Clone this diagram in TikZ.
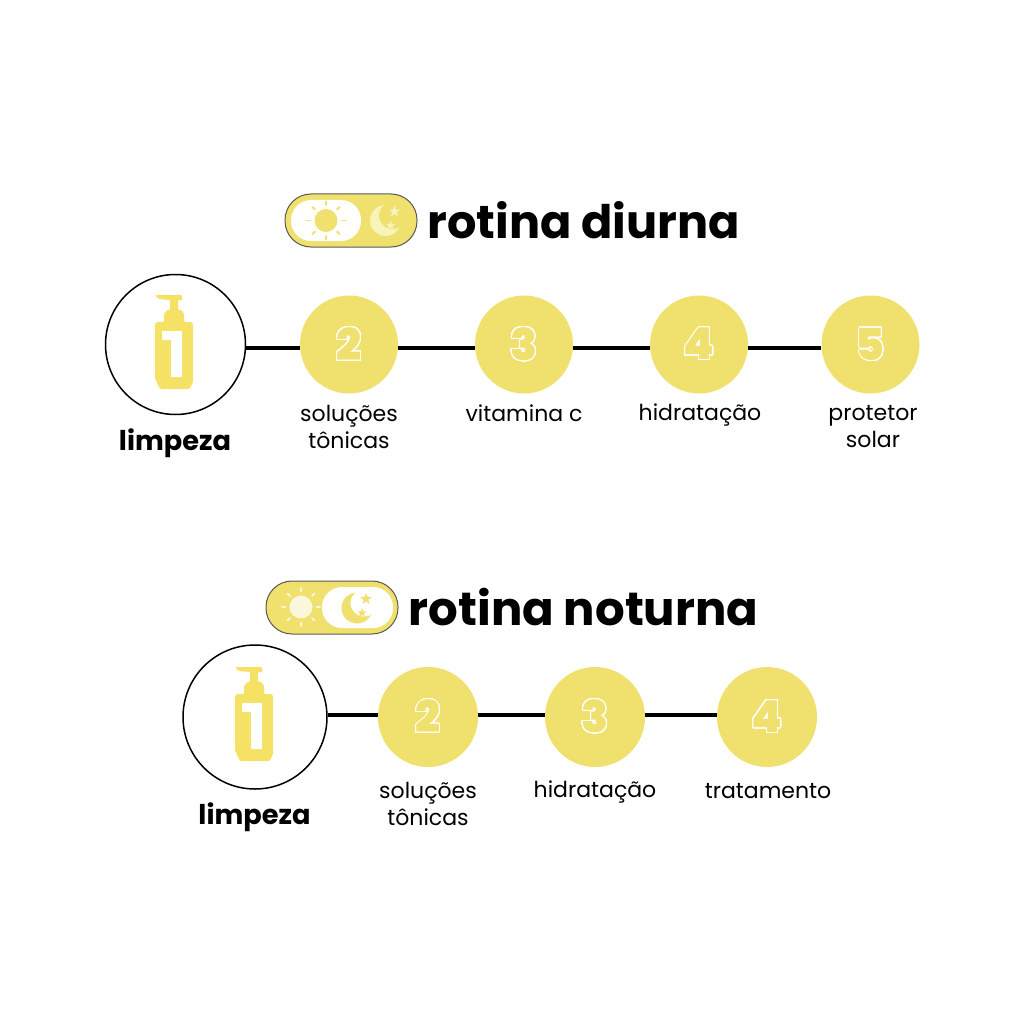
\documentclass[tikz,border=0pt]{standalone}
\usepackage{fontspec}
\setmainfont{Poppins}
\newfontfamily\digito{Poppins}[UprightFont=* Black]
\usepackage[copies]{contour}
\contourlength{1pt}
\contournumber{48}
\usetikzlibrary{shapes.geometric}
\definecolor{amarelo}{HTML}{F0E06E}
\definecolor{frasco}{HTML}{F5E163}
\definecolor{palido}{HTML}{F8F3B8}
\definecolor{claro}{HTML}{FAF7DC}
\tikzset{
  x=1pt,y=-1pt,
  titulo/.style={anchor=west,inner sep=0pt,font=\fontsize{46.2}{46.2}\selectfont\bfseries},
  etapa/.style={circle,fill=amarelo,minimum size=98pt,inner sep=0pt,text=amarelo,font=\fontsize{44}{44}\selectfont\digito},
  grande/.style={circle,draw=black,line width=1.5pt,fill=white,inner sep=0pt},
  legenda/.style={align=center,inner sep=0pt,font=\fontsize{22}{27}\selectfont},
  destaque/.style={inner sep=0pt,font=\fontsize{27.2}{27.2}\selectfont\bfseries},
  ligacao/.style={line width=4pt,black},
  chave/.style={rounded corners=26pt,draw=black!65,line width=1pt,fill=amarelo},
  botao/.style={rounded corners=20pt,fill=white},
  estrela/.style={star,star points=5,star point ratio=2.4,inner sep=0pt},
}
% frasco de limpeza
\newcommand{\frasco}[1]{%
  \begin{scope}[shift={(#1)}]
    \fill[frasco,rounded corners=1pt] (-19.5,-47) -- (7.5,-47) -- (8,-42) -- (3.5,-42) -- (3.5,-32)
      -- (7,-32) -- (9.5,-28) -- (9.5,-20) -- (17,-20) -- (18.5,-18) -- (18.5,40)
      -- (15,47) -- (-12,47) to[out=180,in=90] (-19.5,38)
      -- (-19.5,-18) -- (-18,-20) -- (-10.5,-20) -- (-10.5,-28) -- (-7,-32)
      -- (-4.5,-32) -- (-4.5,-42) -- (-16,-43) -- cycle;
    \fill[white] (-12.5,-11) -- (7.5,-11) -- (7.5,35) -- (-3.5,35) -- (-3.5,-2)
      -- (-12.5,-2) -- cycle;
  \end{scope}}
% sol da chave
\newcommand{\sol}[2]{%
  \begin{scope}[shift={(#1)}]
    \fill[#2] (0,0) circle (11.5);
    \foreach \ang in {0,45,...,315}
      \draw[#2,line width=1.8pt,line cap=round] (\ang:15.5) -- (\ang:19);
  \end{scope}}
% lua da chave, recortada com a cor de fundo
\newcommand{\lua}[3]{%
  \begin{scope}[shift={(#1)}]
    \fill[#2] (0,0) circle (15.5);
    \fill[#3] (7,-5) circle (13.5);
    \node[estrela,fill=#2,minimum size=12pt] at (9,-9) {};
    \node[estrela,fill=#2,minimum size=9.5pt] at (5,5) {};
  \end{scope}}
\begin{document}
\begin{tikzpicture}
  \useasboundingbox (0,0) rectangle (1024,1024);

  % rotina diurna
  \path[chave] (285,194) rectangle (417,247);
  \fill[botao] (291,200) rectangle (361,241);
  \sol{326,220.5}{amarelo}
  \lua{385.5,220.5}{palido}{amarelo}
  \node[titulo] (tituloD) at (427.5,220) {rotina diurna};

  \node[grande,minimum size=140pt] (d1) at (175.5,344.5) {};
  \frasco{174.5,342}
  \node[etapa] (d2) at (349,344.5) {\contour{white}{2}};
  \node[etapa] (d3) at (524,344.5) {\contour{white}{3}};
  \node[etapa] (d4) at (699,344.5) {\contour{white}{4}};
  \node[etapa] (d5) at (870.5,344.5) {\contour{white}{5}};
  \foreach \a/\b in {d1/d2,d2/d3,d3/d4,d4/d5}
    \draw[ligacao,transform canvas={yshift=-3pt}] (\a) -- (\b);

  \node[destaque] (limpezaD) at (175,443.5) {limpeza};
  \node[legenda] (legD2) at (349,427) {soluções\\tônicas};
  \node[legenda] (legD3) at (524,413) {vitamina c};
  \node[legenda] (legD4) at (700,415) {hidratação};
  \node[legenda] (legD5) at (873,427) {protetor\\solar};

  % rotina noturna
  \path[chave] (266,581) rectangle (398,634);
  \fill[botao] (322,587) rectangle (393,628);
  \sol{301,607}{claro}
  \lua{357,608}{amarelo}{white}
  \node[titulo,font=\fontsize{46.6}{46.6}\selectfont\bfseries] (tituloN) at (408.5,607) {rotina noturna};

  \node[grande,minimum size=144pt] (n1) at (255,717) {};
  \frasco{254.5,714}
  \node[etapa,minimum size=100pt] (n2) at (428,717) {\contour{white}{2}};
  \node[etapa,minimum size=100pt] (n3) at (595,717) {\contour{white}{3}};
  \node[etapa,minimum size=100pt] (n4) at (767,717) {\contour{white}{4}};
  \foreach \a/\b in {n1/n2,n2/n3,n3/n4}
    \draw[ligacao,transform canvas={yshift=2.5pt}] (\a) -- (\b);

  \node[destaque] (limpezaN) at (254.5,817.5) {limpeza};
  \node[legenda] (legN2) at (428,804) {soluções\\tônicas};
  \node[legenda] (legN3) at (595,792) {hidratação};
  \node[legenda] (legN4) at (768,791) {tratamento};
\end{tikzpicture}
\end{document}
